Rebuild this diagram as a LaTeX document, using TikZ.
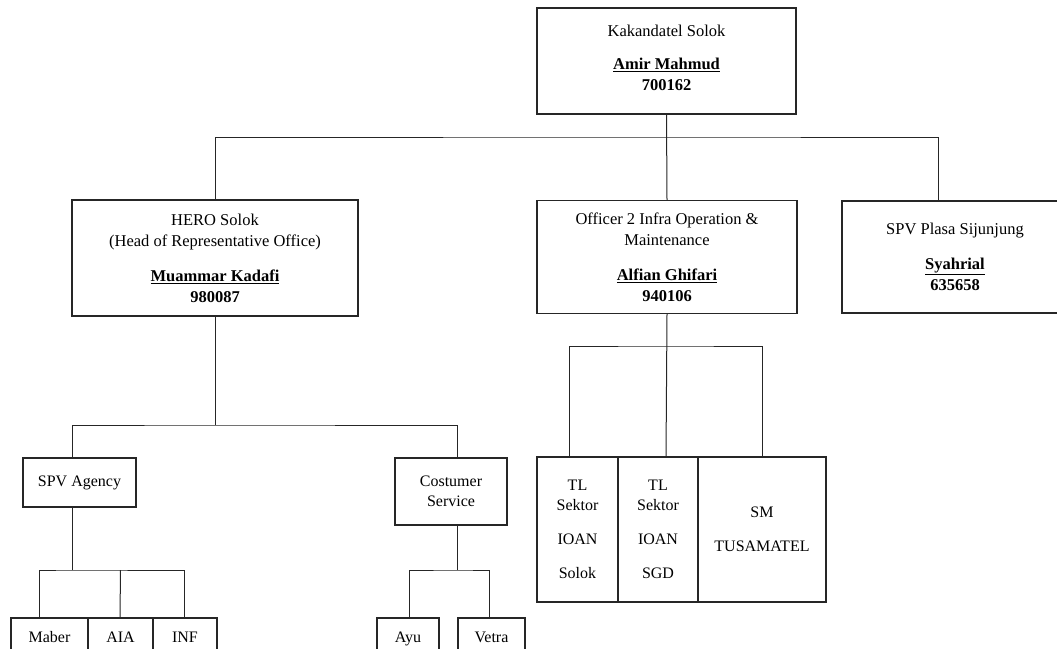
\documentclass[tikz,border=0pt]{standalone}
\usepackage{fontspec}
\setmainfont{Liberation Serif}
\usepackage{tikz}

\begin{document}
\begin{tikzpicture}[x=1pt,y=-1pt,
  box/.style={shape=rectangle,draw=black!85,line width=1.3pt,align=center,inner sep=0pt,
    font=\fontsize{16.5}{21}\selectfont},
  smallbox/.style={box,font=\fontsize{16}{20}\selectfont},
  leafbox/.style={smallbox,minimum height=42pt,text height=11pt,text depth=4pt},
  link/.style={draw=black!85,line width=1pt}]
\useasboundingbox (0,0) rectangle (1057,648);
\clip (0,0) rectangle (1057,648);

\node[box,minimum width=259pt,minimum height=106pt] (head) at (666.5,61) {Kakandatel Solok\\[12pt]\underline{\textbf{Amir Mahmud}}\\\textbf{700162}\\[-14pt]};
\node[box,minimum width=286pt,minimum height=116pt] (hero) at (215,258) {HERO Solok\\(Head of Representative Office)\\[14pt]\underline{\textbf{Muammar Kadafi}}\\\textbf{980087}};
\node[box,minimum width=260pt,minimum height=113pt] (officer) at (667,257) {Officer 2 Infra Operation \&\\Maintenance\\[14pt]\underline{\textbf{Alfian Ghifari}}\\\textbf{940106}};
\node[box,minimum width=226pt,minimum height=112pt] (plasa) at (955,257) {SPV Plasa Sijunjung\\[14pt]\underline{\textbf{Syahrial}}\\\textbf{635658}};

\node[smallbox,minimum width=113pt,minimum height=49pt] (agency) at (79.5,482.5) {SPV Agency};
\node[smallbox,minimum width=112pt,minimum height=67pt] (cs) at (451,491.5) {Costumer\\Service};

\node[smallbox,minimum width=81pt,minimum height=145pt] (tlsolok) at (577.5,529.5) {TL\\Sektor\\[14pt]IOAN\\[14pt]Solok};
\node[smallbox,minimum width=80pt,minimum height=145pt] (tlsgd) at (658,529.5) {TL\\Sektor\\[14pt]IOAN\\[14pt]SGD};
\node[smallbox,minimum width=128pt,minimum height=145pt] (sm) at (762,529.5) {SM\\[14pt]TUSAMATEL};

\node[leafbox,minimum width=77pt] (maber) at (49.5,639) {Maber};
\node[leafbox,minimum width=65pt] (aia) at (120.5,639) {AIA};
\node[leafbox,minimum width=64pt] (inf) at (185,639) {INF};
\node[leafbox,minimum width=62pt] (ayu) at (408,639) {Ayu};
\node[leafbox,minimum width=67pt] (vetra) at (491.5,639) {Vetra};

% top level
\coordinate (topbus) at (666,137);
\draw[link] (head.south) -- (officer.north);
\draw[link] (hero.north) |- (topbus) -| ([xshift=-17pt]plasa.north);

% HERO branch
\coordinate (herobus) at (215,425);
\draw[link] (hero.south) -- (herobus);
\draw[link] ([xshift=-7.5pt]agency.north) |- (herobus) -| ([xshift=6pt]cs.north);

\coordinate (agencybus) at (72,570);
\draw[link] ([xshift=-7.5pt]agency.south) -- (agencybus);
\draw[link] ([xshift=-10.5pt]maber.north) |- (agencybus) -| ([xshift=-1pt]inf.north);
\draw[link] ([xshift=-0.5pt]aia.north) -- (aia.north |- agencybus);

\coordinate (csbus) at (457,570);
\draw[link] ([xshift=6pt]cs.south) -- (csbus);
\draw[link] ([xshift=1pt]ayu.north) |- (csbus) -| ([xshift=-2.5pt]vetra.north);

% officer branch
\coordinate (offbus) at (666,346);
\draw[link] (officer.south) -- ([xshift=8pt]tlsgd.north);
\draw[link] ([xshift=-8.5pt]tlsolok.north) |- (offbus) -| (sm.north);
\end{tikzpicture}
\end{document}
